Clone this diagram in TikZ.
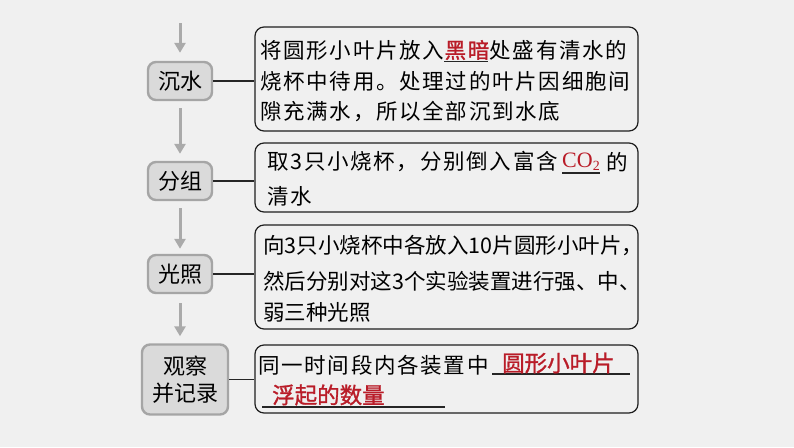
\documentclass[tikz,border=0pt]{standalone}
\usepackage{fontspec}
\usetikzlibrary{arrows.meta,calc}
\newfontfamily\cjk{Noto Sans CJK SC}
\newfontfamily\cjkw[LetterSpace=8]{Noto Sans CJK SC}
\newfontfamily\cjkb[FakeBold=1.2]{Noto Sans CJK SC}
\newfontfamily\cjkbw[FakeBold=1.2,LetterSpace=8]{Noto Sans CJK SC}
\newfontfamily\latinserif{Liberation Serif}
\definecolor{bg}{RGB}{240,240,240}
\definecolor{lbfill}{RGB}{218,218,218}
\definecolor{lbdraw}{RGB}{165,165,165}
\definecolor{arrowgray}{RGB}{170,170,170}
\definecolor{ansred}{RGB}{185,28,40}
\tikzset{
  stepbox/.style={draw=lbdraw, fill=lbfill, line width=2.4pt, rounded corners=8pt, inner sep=0pt, font=\cjk\fontsize{22}{27}\selectfont, align=center},
  descbox/.style={draw=black!88, fill=bg, line width=1.2pt, rounded corners=9pt, inner sep=0pt},
  flowarrow/.style={draw=arrowgray, line width=3pt, -{Triangle[length=10pt,width=11pt]}},
  link/.style={draw=black!85, line width=1.3pt},
  txt/.style={anchor=west, inner sep=0pt, font=\cjk\fontsize{21.5}{24}\selectfont},
  txtw/.style={anchor=west, inner sep=0pt, font=\cjkw\fontsize{21.5}{24}\selectfont},
  ans/.style={anchor=west, inner sep=0pt, text=ansred, font=\cjkb\fontsize{22.5}{24}\selectfont},
  uline/.style={draw=black!85, line width=1.1pt}
}
\begin{document}
\begin{tikzpicture}[x=1pt,y=-1pt]
\useasboundingbox (0,0) rectangle (794,447);
\fill[bg] (0,0) rectangle (794,447);

% left step boxes
\node[stepbox, minimum width=64pt, minimum height=38pt] (s1) at (180,81) {沉水};
\node[stepbox, minimum width=64pt, minimum height=38pt] (s2) at (180,181) {分组};
\node[stepbox, minimum width=64pt, minimum height=38pt] (s3) at (180,274) {光照};
\node[stepbox, minimum width=86pt, minimum height=70pt] (s4) at (185,379.5) {观察\\并记录};

% description boxes
\node[descbox, minimum width=383pt, minimum height=104pt] (d1) at (446.5,79) {};
\node[descbox, minimum width=383pt, minimum height=69pt] (d2) at (446.5,177.5) {};
\node[descbox, minimum width=383pt, minimum height=104pt] (d3) at (446.5,277) {};
\node[descbox, minimum width=383pt, minimum height=68pt] (d4) at (446.5,379) {};

% flow arrows
\coordinate (top) at (180,23);
\draw[flowarrow] (top) -- ($(s1.north)+(0,-8)$);
\draw[flowarrow] ($(s1.south)+(0,7)$) -- ($(s2.north)+(0,-7)$);
\draw[flowarrow] ($(s2.south)+(0,7)$) -- ($(s3.north)+(0,-5)$);
\draw[flowarrow] ($(s3.south)+(0,9)$) -- ($(s3.south |- s4.north)+(0,-7)$);

% links
\draw[link] (s1.east) -- (s1.east -| d1.west);
\draw[link] (s2.east) -- (s2.east -| d2.west);
\draw[link] (s3.east) -- (s3.east -| d3.west);
\draw[link] (s4.east) -- (s4.east -| d4.west);

% box 1 text
\node[txtw] (t11a) at (260,50) {将圆形小叶片放入};
\node[anchor=west, inner sep=0pt, text=ansred, font=\cjkbw\fontsize{21.5}{24}\selectfont] (t11b) at (t11a.east) {黑暗};
\draw[uline] ($(t11b.south west)+(0,1)$) -- ($(t11b.south east)+(-2,1)$);
\node[txtw] (t11c) at (t11b.east) {处盛有清水的};
\node[txtw] (t12) at (260,81) {烧杯中待用。处理过的叶片因细胞间};
\node[txtw] (t13) at (260,112) {隙充满水，所以全部沉到水底};

% box 2 text
\node[txtw] (t21a) at (267,162) {取3只小烧杯，分别倒入富含};
\node[anchor=west, inner sep=0pt, text=ansred, font=\latinserif\fontsize{22}{24}\selectfont] (t21b) at (562,162) {CO\raisebox{-3pt}{\fontsize{14}{14}\selectfont 2}};
\draw[uline] ($(t21b.south west)+(0,2)$) -- ($(t21b.south east)+(0,2)$);
\node[txtw] (t21c) at (606,162) {的};
\node[txtw] (t22) at (267,196) {清水};

% box 3 text
\node[txt] (t31) at (263,246) {向3只小烧杯中各放入10片圆形小叶片，};
\node[txt] (t32) at (263,281) {然后分别对这3个实验装置进行强、中、};
\node[txt] (t33) at (263,312) {弱三种光照};

% box 4 text
\node[txtw] (t41) at (258,365) {同一时间段内各装置中};
\coordinate (u4a) at (492,374);
\coordinate (u4b) at (630,374);
\draw[uline] (u4a) -- (u4b);
\node[ans] (t42) at (502,363) {圆形小叶片};
\coordinate (u5a) at (262,407);
\coordinate (u5b) at (445,407);
\draw[uline] (u5a) -- (u5b);
\node[ans] (t43) at (272,395) {浮起的数量};
\end{tikzpicture}
\end{document}
